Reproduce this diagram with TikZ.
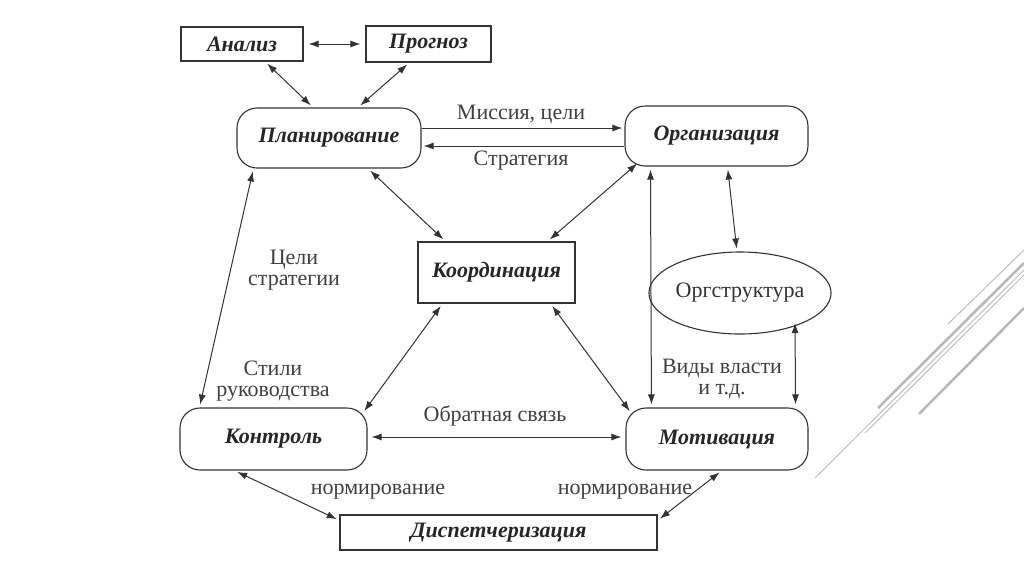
\documentclass[tikz,border=0pt]{standalone}
\usepackage{fontspec}
\setmainfont{Liberation Serif}
\usetikzlibrary{arrows.meta,calc,shapes.geometric}
\begin{document}
\begin{tikzpicture}[x=1pt,y=-1pt,
  every node/.style={inner sep=0pt},
  box/.style={draw=black!80,line width=1.1pt,font=\fontsize{22}{24}\selectfont\bfseries\itshape,text=black!85},
  rbox/.style={box,rounded corners=20pt},
  ell/.style={draw=black!80,line width=1.1pt,ellipse,font=\fontsize{22}{24}\selectfont,text=black!80},
  lbl/.style={font=\fontsize{22}{21}\selectfont,text=black!75,align=center},
  arr/.style={draw=black!80,line width=1pt,{Latex[length=10pt,width=7pt]}-{Latex[length=10pt,width=7pt]}},
  sarr/.style={draw=black!80,line width=1pt,-{Latex[length=10pt,width=7pt]}},
  deco/.style={draw=black!25,line width=1pt},
  decot/.style={draw=black!28,line width=2.5pt}]
\useasboundingbox[fill=white] (0,0) rectangle (1024,574);

% nodes
\node[box,minimum width=122pt,minimum height=34pt] (an) at (242,44) {Анализ};
\node[box,minimum width=125pt,minimum height=36pt] (pr) at (428.5,44) {Прогноз};
\node[rbox,minimum width=184pt,minimum height=60pt] (pl) at (329,138) {Планирование};
\node[rbox,minimum width=183pt,minimum height=60pt] (org) at (716.5,136) {Организация};
\node[box,minimum width=157pt,minimum height=61pt] (ko) at (496.5,272.5) {Координация};
\node[ell,minimum width=144pt,minimum height=82pt] (os) at (740,293) {Оргструктура};
\node[rbox,minimum width=187pt,minimum height=62pt] (kon) at (273.5,439) {Контроль};
\node[rbox,minimum width=182pt,minimum height=62pt] (mot) at (717,439) {Мотивация};
\node[box,minimum width=317pt,minimum height=35pt] (dis) at (498.5,532.5) {Диспетчеризация};

% labels
\node[lbl] (l1) at (521,114) {Миссия, цели};
\node[lbl] (l2) at (521,161) {Стратегия};
\node[lbl] (l3) at (294,270) {Цели\\стратегии};
\node[lbl] (l5) at (273,381) {Стили\\руководства};
\node[lbl] (l7) at (722,379) {Виды власти\\и т.д.};
\node[lbl] (l9) at (495,416) {Обратная связь};
\node[lbl] (l10) at (378,492) {нормирование};
\node[lbl] (l11) at (625,492) {нормирование};

% connectors
\draw[arr,shorten <=5pt,shorten >=5pt] (an.east) -- (pr.west);
\draw[arr,shorten <=3pt,shorten >=3pt] ($(an.south)+(23,0)$) -- ($(pl.north)+(-16,0)$);
\draw[arr,shorten <=3pt,shorten >=3pt] ($(pr.south)+(-19,0)$) -- ($(pl.north)+(29,0)$);
\draw[sarr,shorten >=2pt] ($(pl.east)+(0,-10)$) -- ($(org.west)+(0,-8)$);
\draw[sarr,shorten >=2pt] ($(org.west)+(0,10)$) -- ($(pl.east)+(0,8)$);
\draw[arr,shorten <=3pt,shorten >=3pt] ($(pl.south)+(39,0)$) -- ($(ko.north)+(-51,0)$);
\draw[arr,shorten <=3pt,shorten >=3pt] ($(org.south west)+(15,-5)$) -- ($(ko.north)+(51,0)$);
\draw[arr,shorten <=3pt,shorten >=3pt] ($(org.south)+(11,0)$) -- ($(os.north)+(-3,0)$);
\draw[arr,shorten <=3pt,shorten >=3pt] ($(org.south west)+(26,0)$) -- ($(mot.north west)+(26,0)$);
\draw[arr,shorten <=3pt,shorten >=3pt] ($(os.center)+(55,27)$) -- ($(mot.north east)+(-13,0)$);
\draw[arr,shorten <=3pt,shorten >=3pt] ($(pl.south west)+(17,0)$) -- ($(kon.north west)+(20,0)$);
\draw[arr,shorten <=3pt,shorten >=3pt] ($(ko.south)+(-54,0)$) -- ($(kon.north east)+(-5,6)$);
\draw[arr,shorten <=3pt,shorten >=3pt] ($(ko.south)+(54,0)$) -- ($(mot.north west)+(6,6)$);
\draw[arr,shorten <=4pt,shorten >=4pt] ($(kon.east)+(0,-2)$) -- ($(mot.west)+(0,-2)$);
\draw[arr,shorten <=3pt,shorten >=3pt] ($(kon.south west)+(55,0)$) -- ($(dis.north west)+(0,6)$);
\draw[arr,shorten <=3pt,shorten >=3pt] ($(mot.south)+(5,0)$) -- ($(dis.north east)+(0,6)$);

% slide decoration
\draw[deco] (948,324) -- (1024,250);
\draw[decot] (878,408) -- (1024,263);
\draw[deco] (865,433) -- (1024,275);
\draw[deco] (815,478) -- (1024,270);
\draw[decot] (919,414) -- (1024,308);
\end{tikzpicture}
\end{document}
